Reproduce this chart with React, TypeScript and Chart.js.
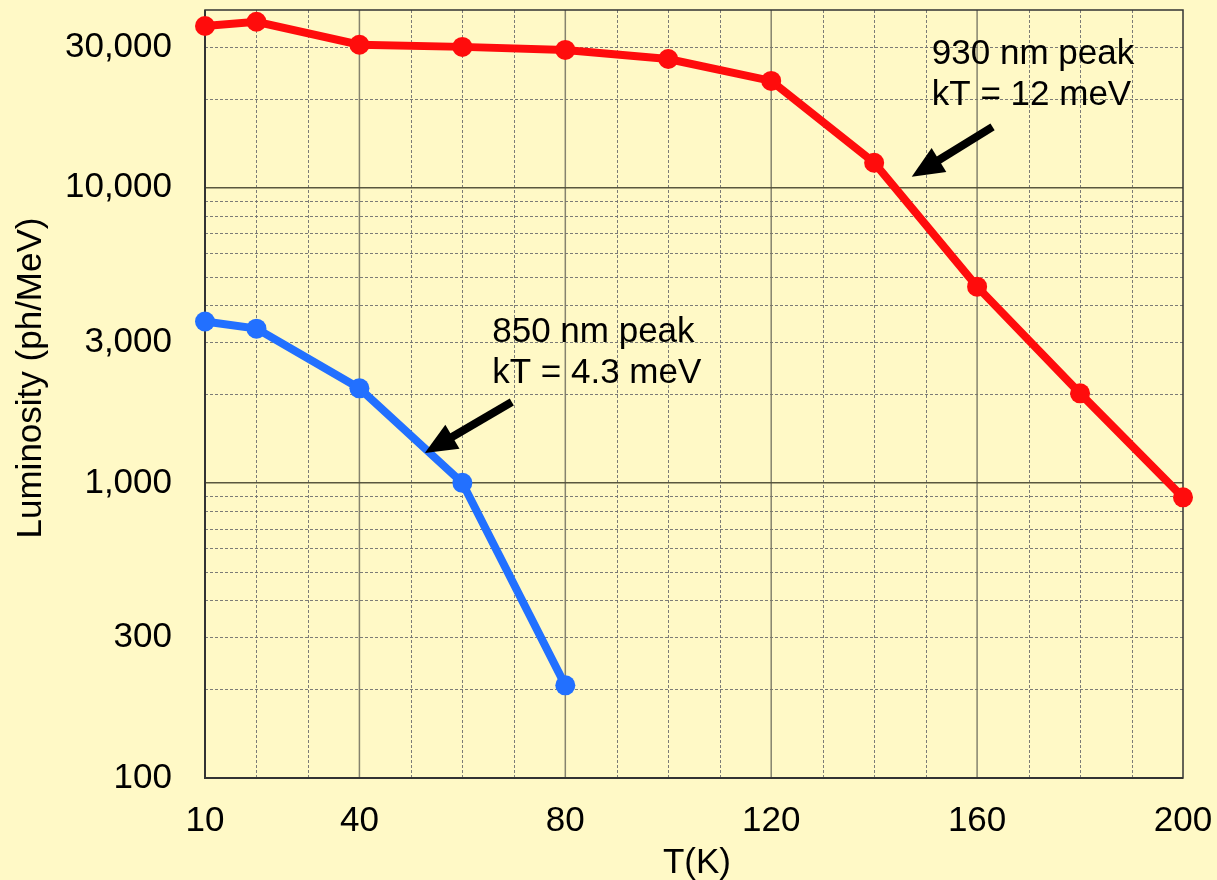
import React, { useEffect, useRef } from "react";
import { Chart, registerables } from "chart.js";

Chart.register(...registerables);

// ---- data ----
const redTemps = [10, 20, 40, 60, 80, 100, 120, 140, 160, 180, 200];
const red930 = [35300, 36500, 30500, 30000, 29300, 27300, 23000, 12150, 4620, 2010, 893];
const blueTemps = [10, 20, 40, 60, 80];
const blue850 = [3520, 3330, 2090, 1000, 206];

const xTickValues = [10, 20, 30, 40, 50, 60, 70, 80, 90, 100, 110, 120, 130, 140, 150, 160, 170, 180, 190, 200];
const xTickLabels = [10, 40, 80, 120, 160, 200];
const xMajorGrid = [40, 80, 120, 160];
const yTickValues = [
  100, 200, 300, 400, 500, 600, 700, 800, 900,
  1000, 2000, 3000, 4000, 5000, 6000, 7000, 8000, 9000,
  10000, 20000, 30000, 40000,
];
const yTickLabels = [100, 300, 1000, 3000, 10000, 30000];
const yMajorGrid = [1000, 10000];

const xTitle = "T(K)";
const yTitle = "Luminosity (ph/MeV)";

// annotations (data coordinates)
const noteLines930 = ["930 nm peak", "kT = 12 meV"];
const noteAt930 = { x: 151.2, y: 26200 };
const arrow930 = { fromX: 163, fromY: 16070, toX: 147.3, toY: 10890 };
const noteLines850 = ["850 nm peak", "kT = 4.3 meV"];
const noteAt850 = { x: 65.8, y: 3000 };
const arrow850 = { fromX: 69.6, fromY: 1878, toX: 52.7, toY: 1263 };

const FONT = '"Liberation Sans", Arial, Helvetica, sans-serif';
const BG = "#FFF9C6";

function drawArrow(ctx: CanvasRenderingContext2D, x1: number, y1: number, x2: number, y2: number) {
  const ang = Math.atan2(y2 - y1, x2 - x1);
  const headLen = 32;
  const headHalf = 14;
  const bx = x2 - headLen * Math.cos(ang);
  const by = y2 - headLen * Math.sin(ang);
  ctx.save();
  ctx.strokeStyle = "#000";
  ctx.fillStyle = "#000";
  ctx.lineWidth = 8;
  ctx.lineCap = "butt";
  ctx.beginPath();
  ctx.moveTo(x1, y1);
  ctx.lineTo(bx + 2 * Math.cos(ang), by + 2 * Math.sin(ang));
  ctx.stroke();
  ctx.beginPath();
  ctx.moveTo(x2, y2);
  ctx.lineTo(bx + headHalf * Math.sin(ang), by - headHalf * Math.cos(ang));
  ctx.lineTo(bx - headHalf * Math.sin(ang), by + headHalf * Math.cos(ang));
  ctx.closePath();
  ctx.fill();
  ctx.restore();
}

const decorPlugin = {
  id: "decor",
  beforeDraw(chart: any) {
    const ctx = chart.ctx;
    ctx.save();
    ctx.fillStyle = BG;
    ctx.fillRect(0, 0, chart.width, chart.height);
    ctx.restore();
  },
  beforeDatasetsDraw(chart: any) {
    const ctx: CanvasRenderingContext2D = chart.ctx;
    const { left, right, top, bottom } = chart.chartArea;
    const xs = chart.scales.x;
    const ys = chart.scales.y;
    ctx.save();
    // minor vertical
    ctx.lineWidth = 1;
    ctx.strokeStyle = "rgba(110,110,110,0.9)";
    ctx.setLineDash([3, 2]);
    xTickValues.forEach((v) => {
      if (xMajorGrid.includes(v) || v === 10 || v === 200) return;
      const px = Math.round(xs.getPixelForValue(v)) + 0.5;
      ctx.beginPath();
      ctx.moveTo(px, top);
      ctx.lineTo(px, bottom);
      ctx.stroke();
    });
    // minor horizontal
    yTickValues.forEach((v) => {
      if (yMajorGrid.includes(v) || v === 100 || v === 40000) return;
      const py = Math.round(ys.getPixelForValue(v)) + 0.5;
      ctx.beginPath();
      ctx.moveTo(left, py);
      ctx.lineTo(right, py);
      ctx.stroke();
    });
    ctx.setLineDash([]);
    // major vertical
    ctx.strokeStyle = "rgba(120,118,100,0.9)";
    ctx.lineWidth = 1.5;
    xMajorGrid.forEach((v) => {
      const px = xs.getPixelForValue(v);
      ctx.beginPath();
      ctx.moveTo(px, top);
      ctx.lineTo(px, bottom);
      ctx.stroke();
    });
    // major horizontal
    ctx.strokeStyle = "rgba(80,78,55,0.95)";
    ctx.lineWidth = 1.5;
    yMajorGrid.forEach((v) => {
      const py = ys.getPixelForValue(v);
      ctx.beginPath();
      ctx.moveTo(left, py);
      ctx.lineTo(right, py);
      ctx.stroke();
    });
    // border
    ctx.strokeStyle = "#333";
    ctx.lineWidth = 1.5;
    ctx.strokeRect(left, top, right - left, bottom - top);
    ctx.lineWidth = 2;
    ctx.beginPath();
    ctx.moveTo(left, top);
    ctx.lineTo(left, bottom);
    ctx.lineTo(right, bottom);
    ctx.stroke();
    ctx.restore();
  },
  afterDatasetsDraw(chart: any) {
    const ctx: CanvasRenderingContext2D = chart.ctx;
    const xs = chart.scales.x;
    const ys = chart.scales.y;
    // arrows
    [arrow930, arrow850].forEach((a) => {
      drawArrow(
        ctx,
        xs.getPixelForValue(a.fromX),
        ys.getPixelForValue(a.fromY),
        xs.getPixelForValue(a.toX),
        ys.getPixelForValue(a.toY)
      );
    });
    ctx.save();
    ctx.fillStyle = "#000";
    ctx.font = `35px ${FONT}`;
    ctx.textAlign = "left";
    ctx.textBaseline = "alphabetic";
    const notes: [string[], { x: number; y: number }][] = [
      [noteLines930, noteAt930],
      [noteLines850, noteAt850],
    ];
    notes.forEach(([lines, at]) => {
      const px = xs.getPixelForValue(at.x);
      const py = ys.getPixelForValue(at.y);
      lines.forEach((t, i) => ctx.fillText(t, px, py + i * 41));
    });
    // axis titles
    const { left, right } = chart.chartArea;
    ctx.textAlign = "center";
    ctx.fillText(xTitle, (left + right) / 2 + 3, 873);
    ctx.translate(31.5, 378);
    ctx.rotate(-Math.PI / 2);
    ctx.textBaseline = "middle";
    ctx.fillText(yTitle, 0, 0);
    ctx.restore();
  },
};

export default function App() {
  const ref = useRef<HTMLCanvasElement | null>(null);
  useEffect(() => {
    document.body.style.margin = "0";
    document.body.style.background = BG;
    const canvas = ref.current;
    if (!canvas) return;
    const chart = new Chart(canvas, {
      type: "line",
      data: {
        datasets: [
          {
            label: "930 nm peak",
            data: redTemps.map((t, i) => ({ x: t, y: red930[i] })),
            borderColor: "rgb(255,12,12)",
            backgroundColor: "rgb(255,12,12)",
            borderWidth: 8,
            pointRadius: 10,
            pointHoverRadius: 10,
            pointBorderWidth: 0,
            tension: 0,
            clip: false,
          },
          {
            label: "850 nm peak",
            data: blueTemps.map((t, i) => ({ x: t, y: blue850[i] })),
            borderColor: "rgb(34,112,255)",
            backgroundColor: "rgb(34,112,255)",
            borderWidth: 8,
            pointRadius: 10,
            pointHoverRadius: 10,
            pointBorderWidth: 0,
            tension: 0,
            clip: false,
          },
        ],
      },
      options: {
        responsive: false,
        animation: false,
        devicePixelRatio: 1,
        layout: { padding: { left: 0, right: 34, top: 9, bottom: 0 } },
        plugins: {
          legend: { display: false },
          tooltip: { enabled: false },
          title: { display: false },
        },
        scales: {
          x: {
            type: "linear",
            min: 10,
            max: 200,
            grid: { display: false, drawTicks: false },
            border: { display: false },
            afterBuildTicks: (s: any) => {
              s.ticks = xTickValues.map((v) => ({ value: v }));
            },
            afterFit: (s: any) => {
              s.height = 102;
              s.paddingLeft = 0;
              s.paddingRight = 0;
              s.paddingTop = 0;
              s.paddingBottom = 0;
            },
            ticks: {
              autoSkip: false,
              maxRotation: 0,
              minRotation: 0,
              padding: 22,
              color: "#000",
              font: { family: FONT, size: 35 },
              callback: (v: any) => (xTickLabels.includes(Number(v)) ? String(v) : ""),
            },
          },
          y: {
            type: "logarithmic",
            min: 100,
            max: 40000,
            grid: { display: false, drawTicks: false },
            border: { display: false },
            afterBuildTicks: (s: any) => {
              s.ticks = yTickValues.map((v) => ({ value: v }));
            },
            afterFit: (s: any) => {
              s.width = 205;
              s.paddingLeft = 0;
              s.paddingRight = 0;
              s.paddingTop = 0;
              s.paddingBottom = 0;
            },
            ticks: {
              autoSkip: false,
              padding: 33,
              color: "#000",
              font: { family: FONT, size: 35 },
              callback: (v: any) =>
                yTickLabels.includes(Number(v)) ? Number(v).toLocaleString("en-US") : "",
            },
          },
        },
      },
      plugins: [decorPlugin],
    } as any);
    return () => chart.destroy();
  }, []);
  return (
    <div style={{ width: 1217, height: 880, background: BG }}>
      <canvas ref={ref} width={1217} height={880} style={{ display: "block" }} />
    </div>
  );
}
